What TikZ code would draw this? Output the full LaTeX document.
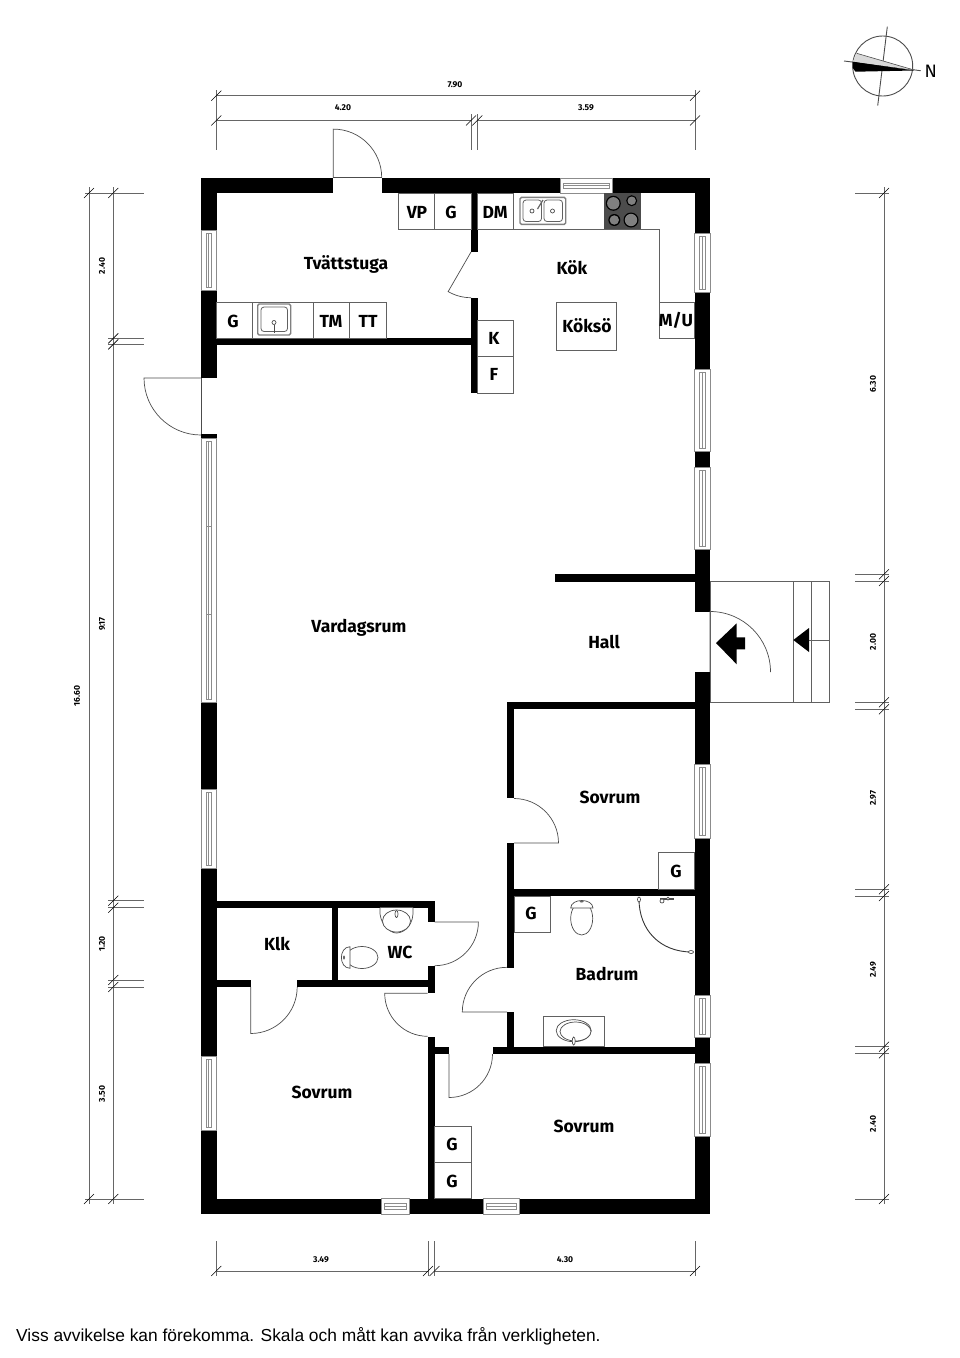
\documentclass[tikz,border=0pt]{standalone}
\usepackage{fontspec}
\setmainfont{Fira Sans}
\newfontfamily\footfont{Liberation Sans}
\usepackage{tikz}
\usetikzlibrary{calc}

\tikzset{
	wall/.style={fill=black,draw=none},
	thin line/.style={draw=black!62,line width=0.8pt},
	door line/.style={draw=black!70,line width=0.7pt},
	dim line/.style={draw=black!60,line width=0.8pt},
	window line/.style={draw=black!45,fill=white,line width=0.8pt},
	fixture/.style={draw=black!70,fill=white,line width=0.7pt},
	room/.style={font=\bfseries\fontsize{17.5}{18}\selectfont,inner sep=0pt},
	unit/.style={font=\bfseries\fontsize{17.5}{18}\selectfont,inner sep=0pt},
	measure/.style={font=\bfseries\fontsize{8.5}{9}\selectfont,inner sep=0pt},
}

\begin{document}
\begin{tikzpicture}[x=1pt,y=-1pt]

	\useasboundingbox (0,0) rectangle (960,1358);

	% ---- outer walls

	\foreach \xa/\ya/\xb/\yb in {
		201/178/333.3/193, 381.7/178/560/193, 612.7/178/710/193,
		201/193/216.5/230, 201/290/216.5/377.5, 201/434/216.5/438,
		201/702/216.5/789, 201/868/216.5/1056, 201/1130/216.5/1214,
		694.5/193/710/233, 694.5/292.7/710/369.3, 694.5/451.7/710/467,
		694.5/549/710/611.7, 694.5/672/710/764, 694.5/838/710/995,
		694.5/1037/710/1063, 694.5/1136/710/1214,
		216.5/1198.5/381.7/1214, 409.7/1198.5/483.7/1214, 519/1198.5/694.5/1214
	} { \fill[wall] (\xa,\ya) rectangle (\xb,\yb); }

	% ---- inner walls

	\foreach \xa/\ya/\xb/\yb in {
		216.5/338/471/345, 471/193/477.5/252, 471/298/477.5/393,
		555/574.3/694.5/581.7, 507/702.3/694.5/709.3,
		507/709.3/514/798, 507/843/514/968, 507/1012/514/1047,
		514/889.3/694.5/896, 492.7/1046.7/694.5/1053.5,
		216.5/900.7/434.7/907.7, 331.7/907.7/338.3/980,
		216.5/980/250.7/987, 297.3/980/434.7/987,
		427.7/907.7/434.7/922, 427.7/965.7/434.7/993.3,
		427.7/1036.7/434.7/1198.5, 434.7/1047/449/1054
	} { \fill[wall] (\xa,\ya) rectangle (\xb,\yb); }

	% ---- windows, upright

	\foreach \xa/\ya/\yb in {
		201/230/290, 201/438/702, 201/789/868, 201/1056/1130,
		694.5/233/292.7, 694.5/369.3/451.7, 694.5/467/549,
		694.5/764/838, 694.5/995/1037, 694.5/1063/1136
	} {
		\draw[window line] (\xa,\ya) rectangle ++(15.5,\yb-\ya);
		\draw[window line] ($(\xa,\ya)+(5,3)$) rectangle ($(\xa,\yb)+(10.5,-3)$);
		\draw[window line] ($(\xa,\ya)+(7.5,3)$) -- ($(\xa,\yb)+(7.5,-3)$);
	}
	\draw[window line] (206,526) -- (211.5,526);
	\draw[window line] (206,614) -- (211.5,614);

	% ---- windows, lying

	\foreach \xa/\xb/\ya in {560/612.7/178, 381.7/409.7/1198.5, 483.7/519/1198.5} {
		\draw[window line] (\xa,\ya) rectangle (\xb,\ya+15.5);
		\draw[window line] ($(\xa,\ya)+(3,5)$) rectangle ($(\xb,\ya)+(-3,10.5)$);
		\draw[window line] ($(\xa,\ya)+(3,7.5)$) -- ($(\xb,\ya)+(-3,7.5)$);
	}

	% ---- doors: hinge, start and end angle, radius

	\foreach \cx/\cy/\sa/\ea/\r in {
		333.3/177.5/90/0/48.4, 201/378/180/270/57, 471/252/240/270/45.7,
		710/672/90/0/60.5, 514/843/0/90/44.5, 507/1012/180/90/44.7,
		434.7/922/0/-90/43.7, 250.7/987/-90/0/46.5, 427.7/993.3/180/270/43,
		449/1054/-90/0/43.5
	} {
		\draw[door line] (\cx,\cy) -- ++(\sa:\r pt) arc[start angle=\sa,end angle=\ea,radius=\r pt];
	}
	\draw[door line] (333.3,177.5) -- (381.7,177.5);
	\draw[door line] (201,378) -- (201,434);
	\draw[door line] (710,611.7) -- (710,672);

	% ---- cabinets

	\foreach \xa/\ya/\xb/\yb in {
		398.3/193/434.7/229, 434.7/193/471/229,
		477.5/193/513.5/229, 216.5/302/252.7/338, 252.7/302/313.3/338,
		313.3/302/349.7/338, 349.7/302/386/338,
		659/302.3/694.5/338.3, 556.3/302.3/616.7/350.3,
		477.5/320.3/513.7/356.5, 477.5/356.5/513.7/393,
		658.3/852.7/694.5/889.3, 514/896/550/932.3,
		434.7/1126/471/1162.3, 434.7/1162.3/471/1198.5,
		543.3/1016.3/604.7/1046.7
	} { \draw[thin line] (\xa,\ya) rectangle (\xb,\yb); }

	% ---- kitchen counter

	\draw[thin line] (513.5,229) -- (659,229) -- (659,302.3);

	% ---- stove

	\fill[black!70] (604,193) rectangle (641,229);
	\foreach \x/\y/\r in {613.3/203.3/7.5, 631.7/200.7/5.5, 614.3/220/6, 631/220/7.5} {
		\fill[black] (\x,\y) circle (\r pt);
		\fill[black!50] (\x,\y) circle (\r pt-1.3pt);
	}

	% ---- sinks

	\draw[draw=black!50,fill=white,line width=1.4pt,rounded corners=1.5pt] (257.7,304) rectangle (290.7,335);
	\draw[thin line,rounded corners=3pt] (261,307) rectangle (287.5,331.5);
	\draw[fixture] (274,322.5) circle (2pt);
	\draw[fixture] (274,324.5) -- (274,333);

	\draw[draw=black!50,fill=white,line width=1.4pt,rounded corners=1.5pt] (520,197.3) rectangle (565.7,224.3);
	\draw[thin line,rounded corners=3pt] (523,200) rectangle (541.5,221.5);
	\draw[thin line,rounded corners=3pt] (544,200) rectangle (562.5,221.5);
	\draw[fixture] (532,211) circle (2pt);
	\draw[fixture] (552.5,211) circle (2pt);
	\draw[draw=black!60,line width=1.2pt] (537.5,209) -- (543,200);

	% ---- bathroom fittings

	\draw[fixture] (573.7,1030.7) ellipse (17.5pt and 11pt);
	\draw[fixture] (575.5,1031.5) ellipse (15.5pt and 9.5pt);
	\draw[fixture] (573.7,1041) ellipse (1.5pt and 4pt);

	\draw[fixture] (581.7,918.5) ellipse (11pt and 16.5pt);
	\draw[fixture] (570.7,908) .. controls (571,898) and (592.5,898) .. (593,908) -- cycle;
	\fill[black!60] (581.7,901.5) ellipse (2pt and 1pt);

	\draw[draw=black!80,line width=0.9pt] (639,899) .. controls (639,930) and (660,952) .. (692,952);
	\draw[fixture] (639,899.5) ellipse (1.5pt and 2.5pt);
	\draw[fixture] (691,952) ellipse (2.5pt and 1.5pt);
	\draw[draw=black!70,line width=1.4pt] (660,899) -- (674,899);
	\draw[fixture] (662,901) circle (2pt);
	\draw[fixture] (668,898.5) circle (1.5pt);

	% ---- wc fittings

	\draw[fixture] (380,907.7) -- (380,914) .. controls (382,928) and (392,933) .. (396.5,933) .. controls (402,933) and (412,928) .. (413,914) -- (413,907.7);
	\draw[fixture] (396.5,921) ellipse (14pt and 11pt);
	\draw[fixture] (396.5,914) ellipse (1.5pt and 3.5pt);

	\draw[fixture] (362,957.5) ellipse (16pt and 11pt);
	\draw[fixture] (350,946.7) .. controls (338.5,947) and (338.5,968) .. (350,968.3) -- cycle;
	\fill[black!60] (344,957.5) ellipse (1pt and 2pt);

	% ---- steps

	\draw[thin line] (710,581) rectangle (829.3,702.7);
	\draw[thin line] (793.3,581) -- (793.3,702.7);
	\draw[thin line] (811.7,581) -- (811.7,702.7);
	\draw[thin line] (809,640) -- (829.3,640);
	\fill[black] (793.3,640) -- (809,628) -- (809,652) -- cycle;

	% ---- entrance arrow

	\fill[black] (716,643) -- (736.7,623.3) -- (736.7,637.3) -- (745,637.3)
		-- (745,649.3) -- (736.7,649.3) -- (736.7,664.3) -- cycle;

	% ---- dimension lines, top

	\draw[dim line] (216.3,95.7) -- (695,95.7);
	\draw[dim line] (216.3,120.5) -- (471,120.5);
	\draw[dim line] (477.3,120.5) -- (695,120.5);
	\foreach \x/\ya in {216.3/90, 695/90, 471/114, 477.3/114} {
		\draw[dim line] (\x,\ya) -- (\x,150);
	}

	% ---- dimension lines, left

	\draw[dim line] (89,187) -- (89,1204);
	\draw[dim line] (113.3,187) -- (113.3,1204);
	\foreach \y/\xa in {193/85, 338.3/108, 344.3/108, 900.7/108, 907.7/108, 980/108, 987/108, 1199/85} {
		\draw[dim line] (\xa,\y) -- (144,\y);
	}

	% ---- dimension lines, right

	\draw[dim line] (884,187) -- (884,1204);
	\foreach \y in {193, 574.3, 581, 702.3, 709.3, 889.3, 896, 1046.7, 1053.3, 1199} {
		\draw[dim line] (855,\y) -- (889,\y);
	}

	% ---- dimension lines, bottom

	\draw[dim line] (216.3,1271) -- (428,1271);
	\draw[dim line] (434.5,1271) -- (695,1271);
	\foreach \x in {216.3, 428, 434.5, 695} {
		\draw[dim line] (\x,1241) -- (\x,1276);
	}

	% ---- ticks

	\foreach \x/\y in {
		216.3/95.7, 695/95.7, 216.3/120.5, 471/120.5, 477.3/120.5, 695/120.5,
		89/193, 113.3/193, 113.3/338.3, 113.3/344.3, 113.3/900.7, 113.3/907.7,
		113.3/980, 113.3/987, 89/1199, 113.3/1199,
		884/193, 884/574.3, 884/581, 884/702.3, 884/709.3, 884/889.3, 884/896,
		884/1046.7, 884/1053.3, 884/1199,
		216.3/1271, 428/1271, 434.5/1271, 695/1271
	} {
		\draw[draw=black,line width=0.6pt] ($(\x,\y)+(-5,5)$) -- ($(\x,\y)+(5,-5)$);
	}

	% ---- compass

	\draw[draw=black!70,line width=0.9pt] (882.7,66) circle (30pt);
	\draw[draw=black!70,line width=0.9pt] (887.3,26.7) -- (877.7,105.7);
	\draw[draw=black!70,line width=0.9pt] (844,61) -- (920.7,70.7);
	\fill[black!15] (914,70) -- (856.7,53.3) -- (852.7,61.7) -- cycle;
	\draw[draw=black!70,line width=0.6pt] (914,70) -- (856.7,53.3);
	\fill[black] (914,70.5) -- (852.7,61.7) -- (852.7,68) -- (855.5,71.7) -- cycle;
	\node[font=\fontsize{18}{18}\selectfont,inner sep=0pt] (north) at (930.7,71.7) {N};

	% ---- room labels

	\foreach \name/\x/\y/\txt in {
		tvatt/346/264/Tvättstuga, kok/572/268/Kök, koksoe/587/326/Köksö,
		vardag/359/628/Vardagsrum, hall/604/642/Hall, sovA/610/797/Sovrum,
		badrum/607/974/Badrum, wc/400/952/WC, klk/277/944/Klk,
		sovB/322/1092/Sovrum, sovC/584/1126/Sovrum
	} { \node[room] (\name) at (\x,\y) {\txt}; }

	% ---- cabinet labels

	\foreach \name/\x/\y/\txt in {
		vp/417/212/VP, gA/451/212/G, dm/495/212/DM, gB/233/321/G,
		tm/331/321/TM, tt/368/321/TT, mu/676/320/{M/U}, k/494/338/K,
		f/494/374/F, gC/676/871/G, gD/531/913/G, gE/452/1144/G, gF/452/1181/G
	} { \node[unit] (\name) at (\x,\y) {\txt}; }

	% ---- measures

	\foreach \name/\x/\y/\txt in {
		mTotal/455/85/7.90, mWest/343/108/4.20, mEast/586/108/3.59,
		mSouthA/321/1260/3.49, mSouthB/565/1260/4.30
	} { \node[measure] (\name) at (\x,\y) {\txt}; }

	\foreach \name/\x/\y/\txt in {
		mA/102/266/2.40, mB/102/624/9.17, mC/102/944/1.20, mD/102/1094/3.50,
		mE/77/696/16.60, mF/873/384/6.30, mG/873/642/2.00, mH/873/798/2.97,
		mI/873/970/2.49, mJ/873/1124/2.40
	} { \node[measure,rotate=90] (\name) at (\x,\y) {\txt}; }

	% ---- footer

	\node[anchor=base west,inner sep=0pt,font=\footfont\fontsize{17.37}{18}\selectfont] (footer) at (16,1341)
		{Viss avvikelse kan förekomma. Skala och mått kan avvika från verkligheten.};

\end{tikzpicture}
\end{document}
